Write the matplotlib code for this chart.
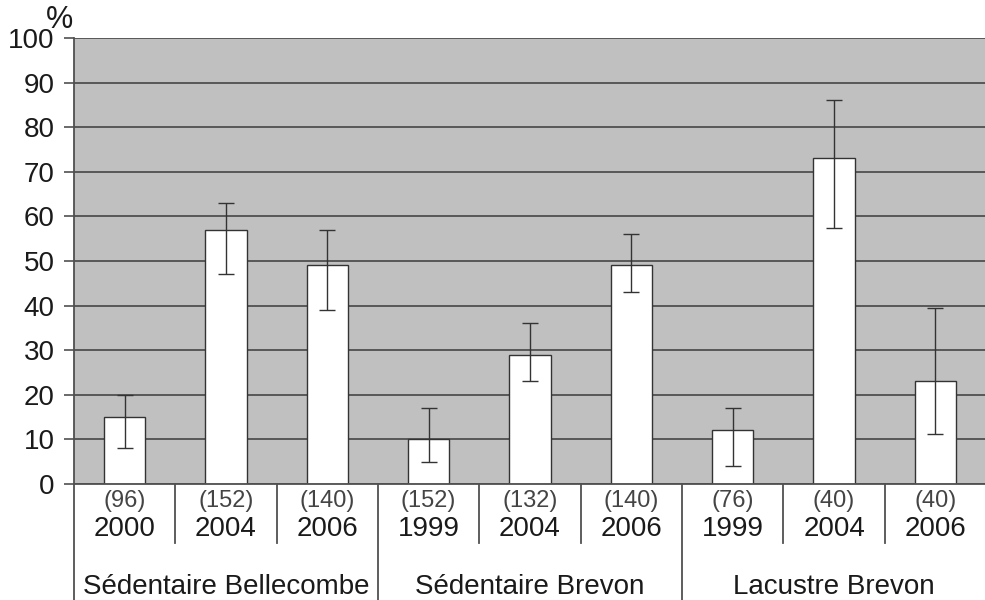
import numpy as np
import matplotlib
matplotlib.use("Agg")
import matplotlib.pyplot as plt
import matplotlib.transforms as mtransforms

# pourcentages moyens et intervalles (bornes basse / haute)
groupes = ["Sédentaire Bellecombe", "Sédentaire Brevon", "Lacustre Brevon"]
annees = ["2000", "2004", "2006", "1999", "2004", "2006", "1999", "2004", "2006"]
effectifs = ["(96)", "(152)", "(140)", "(152)", "(132)", "(140)", "(76)", "(40)", "(40)"]
valeurs = [15, 57, 49, 10, 29, 49, 12, 73, 23]
borne_basse = [8, 47, 39, 5, 23, 43, 4, 57.5, 11.2]
borne_haute = [20, 63, 57, 17, 36, 56, 17, 86, 39.5]

plt.rcParams['font.family'] = ['Liberation Sans', 'DejaVu Sans']

fig = plt.figure(figsize=(9.85, 6), dpi=100)
ax = fig.add_axes([0.0751, 0.1933, 0.926, 0.7434])

x = np.arange(len(valeurs))
v = np.array(valeurs)
err = [v - np.array(borne_basse), np.array(borne_haute) - v]

ax.set_facecolor('#c0c0c0')
ax.set_axisbelow(True)
ax.yaxis.grid(True, color='#505050', lw=1.3)
ax.bar(x, valeurs, width=0.41, color='white', edgecolor='#333333', lw=1.0, zorder=2)
ax.errorbar(x, valeurs, yerr=err, fmt='none', ecolor='#333333', elinewidth=1.0,
            capsize=5.5, capthick=1.0, zorder=3)

ax.set_xlim(-0.5, 8.5)
ax.set_ylim(0, 100)
ax.set_yticks(range(0, 101, 10))
ax.tick_params(axis='y', length=7, width=1.2, color='#505050', labelsize=20,
               labelcolor='#1a1a1a', pad=7)
ax.set_xticks([])
for s in ['top', 'right']:
    ax.spines[s].set_visible(False)
ax.spines['left'].set_color('#505050')
ax.spines['left'].set_lw(1.3)
ax.spines['bottom'].set_color('#505050')
ax.spines['bottom'].set_lw(1.3)

trans = mtransforms.blended_transform_factory(ax.transData, ax.transAxes)

ax.text(-0.64, 1.04, "%", transform=trans, fontsize=22, ha='center', va='center',
        color='#1a1a1a')

# étiquettes et séparateurs sous l'axe
for i in range(len(valeurs)):
    ax.text(x[i], -0.038, effectifs[i], transform=trans, ha='center', va='center',
            fontsize=17, color='#444444')
    ax.text(x[i], -0.1, annees[i], transform=trans, ha='center', va='center',
            fontsize=20, color='#1a1a1a')

for b in np.arange(-0.5, 9.0, 1.0):
    if b in (-0.5, 2.5, 5.5, 8.5):
        ax.plot([b, b], [0, -0.27], transform=trans, color='#505050', lw=1.3, clip_on=False)
    else:
        ax.plot([b, b], [0, -0.132], transform=trans, color='#505050', lw=1.3, clip_on=False)

for g, nom in enumerate(groupes):
    ax.text(3 * g + 1, -0.23, nom, transform=trans, ha='center', va='center',
            fontsize=20, color='#1a1a1a')

fig.savefig("out.png", dpi=100)
